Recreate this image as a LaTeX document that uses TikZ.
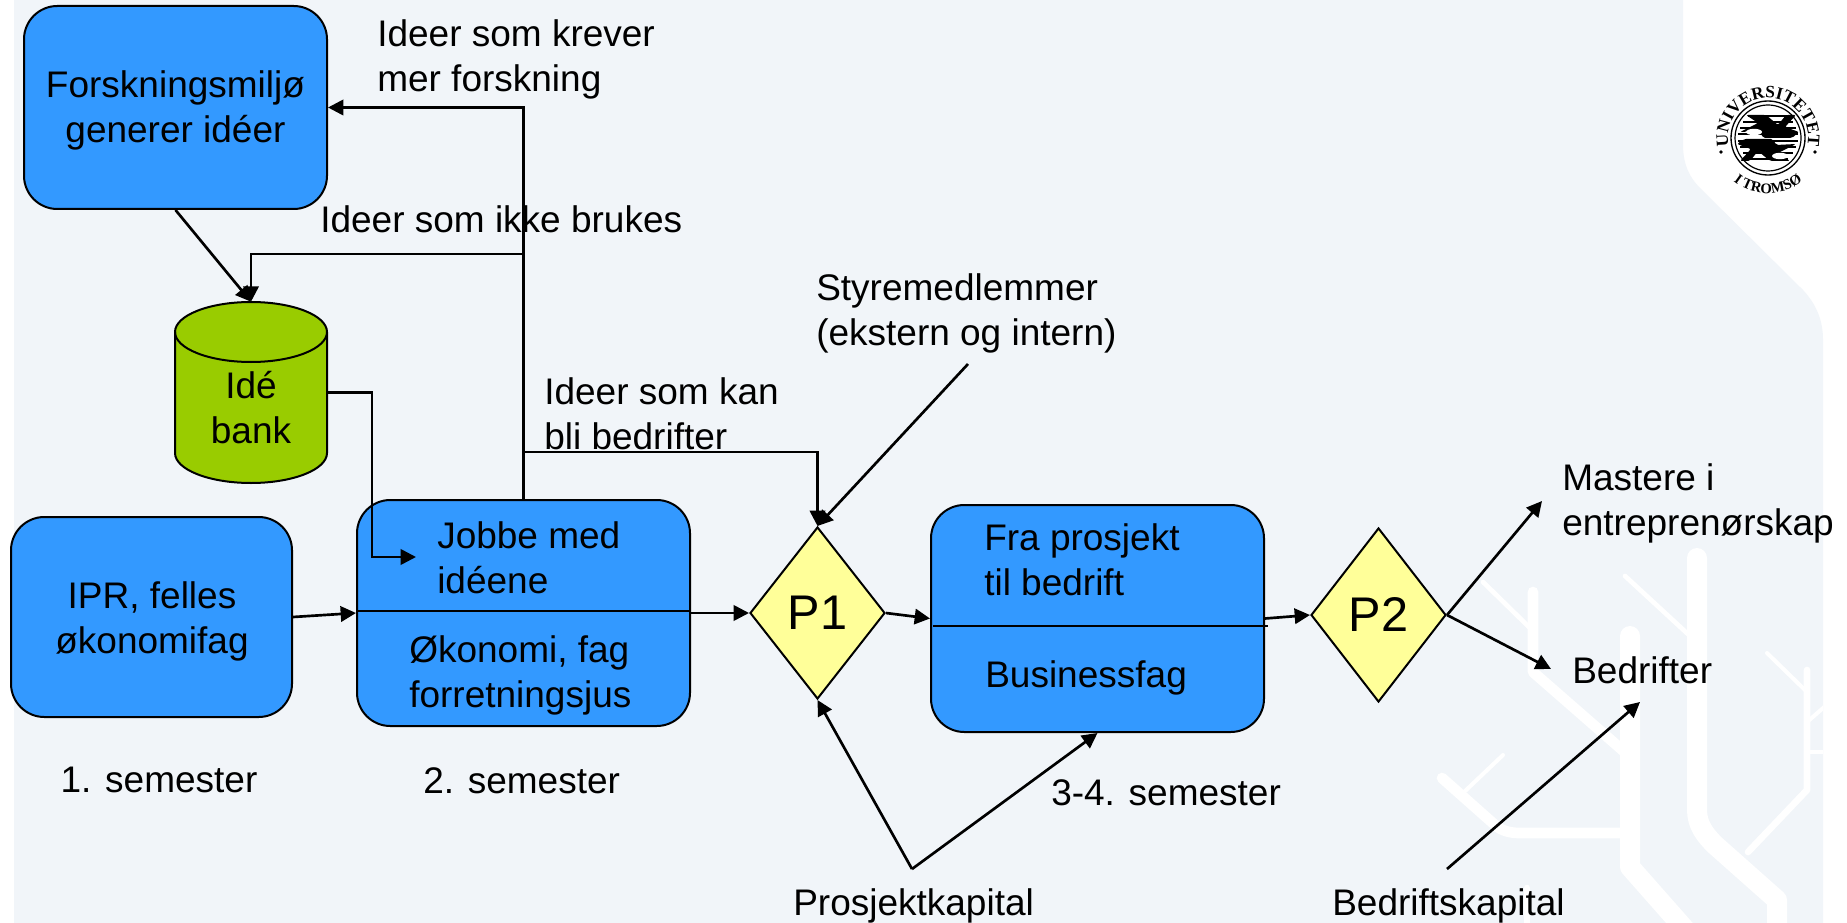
\documentclass[tikz,border=0pt]{standalone}
\usepackage{fontspec}
\setmainfont{Liberation Sans}
\newfontfamily\sealfont{Liberation Serif}
\usetikzlibrary{arrows.meta,shapes.geometric,calc,decorations.text}
\definecolor{panelc}{HTML}{F1F5F9}
\definecolor{boxc}{HTML}{3399FF}
\definecolor{cylc}{HTML}{99CC00}
\definecolor{diac}{HTML}{FFFF99}
\newcommand{\labfont}{\fontsize{27.75pt}{33.75pt}\selectfont}
\tikzset{
  bluebox/.style={draw=black,line width=1.5pt,fill=boxc,rectangle,rounded corners=25pt,inner sep=0pt},
  gate/.style={draw=black,line width=1.5pt,fill=diac,diamond,inner sep=0pt,font=\fontsize{36.5pt}{40pt}\selectfont},
  lab/.style={inner sep=0pt,anchor=base west,align=left,font=\labfont,text=black},
  clab/.style={inner sep=0pt,anchor=base,align=center,font=\labfont,text=black},
  conn/.style={line width=2pt,draw=black},
  arr/.style={conn,-{Triangle[length=11.5pt,width=11.5pt]}},
  treeline/.style={draw=white,line cap=round,line join=round},
}
\begin{document}
\begin{tikzpicture}[x=.75pt,y=-.75pt]
\useasboundingbox (0,0) rectangle (1847,923);
% panel
\fill[white] (0,0) rectangle (1847,923);
\begin{scope}
\path[clip] (14,0) -- (1683,0) -- (1683,145) .. controls (1683,165) and (1690,178) .. (1700,188)
  -- (1803,290) .. controls (1816,304) and (1823,320) .. (1823,340) -- (1823,923) -- (14,923) -- cycle;
\fill[panelc] (0,0) rectangle (1847,923);
% watermark
\draw[treeline,line width=15pt] (1630,636) -- (1630,867) -- (1690,935);
\draw[treeline,line width=15pt] (1697,558) -- (1697,810) .. controls (1697,825) and (1705,835) .. (1715,845) -- (1777,900) -- (1777,935);
\draw[treeline,line width=8pt] (1533,592) -- (1533,672) -- (1628,755);
\draw[treeline,line width=3.5pt] (1483,582) -- (1530,628);
\draw[treeline,line width=3.5pt] (1625,576) -- (1690,636);
\draw[treeline,line width=5pt] (1807,670) -- (1807,790) -- (1748,852);
\draw[treeline,line width=3pt] (1767,653) -- (1807,692);
\draw[treeline,line width=3pt] (1807,722) -- (1830,702);
\draw[treeline,line width=3pt] (1807,752) -- (1830,752);
\draw[treeline,line width=8pt] (1442,778) -- (1495,825) .. controls (1502,831) and (1510,833) .. (1520,833) -- (1630,833);
\draw[treeline,line width=3pt] (1463,793) -- (1503,755);
\draw[treeline,line width=5pt] (1527,888) -- (1527,935);
\end{scope}

% boxes
\node[bluebox,minimum width=227.25pt,minimum height=152.25pt] (forsk) at (175.5,107.5) {};
\node[bluebox,minimum width=210.75pt,minimum height=150pt] (ipr) at (151.5,617) {};
\node[bluebox,minimum width=249.75pt,minimum height=169.5pt] (jobbe) at (523.5,613) {};
\node[bluebox,minimum width=249.75pt,minimum height=170.25pt] (fra) at (1097.5,618.5) {};
\node[gate,minimum width=101.25pt,minimum height=129pt] (p1) at (817.5,613) {P1};
\node[gate,minimum width=101.25pt,minimum height=130.5pt] (p2) at (1378.5,615) {P2};
% cylinder
\node[inner sep=0pt,minimum width=114pt,minimum height=135.75pt] (cyl) at (251,392.5) {};
\draw[line width=1.5pt,fill=cylc] (175,332) -- (175,453)
  arc[x radius=57pt,y radius=22.5pt,start angle=180,end angle=360] -- (327,332)
  arc[x radius=57pt,y radius=22.5pt,start angle=0,end angle=180] -- cycle;
\draw[line width=1.5pt] (175,332) arc[x radius=57pt,y radius=22.5pt,start angle=180,end angle=360];
% dividers
\draw[line width=1.5pt] ($(jobbe.west)+(0,-2)$) -- ($(jobbe.east)+(0,-2)$);
\draw[line width=1.5pt] ($(fra.west)+(3,7.5)$) -- ($(fra.east)+(3,7.5)$);

% junctions and free ends
\coordinate (jx1) at (523.5,254);
\coordinate (jx2) at (523.5,452);
\coordinate (jbend) at (372,557);
\coordinate (jin) at (416,557);
\coordinate (st) at (968,364);
\coordinate (pk) at (912,869);
\coordinate (bk) at (1447,869);
\coordinate (mast) at (1542,501);
\coordinate (bedr) at (1551,669);
\coordinate (bedr2) at (1640,702);

% connectors
\draw[arr] (forsk.south) -- (cyl.north);
\draw[arr] (jobbe.north) |- (forsk.east);
\draw[arr] (jx1) -| (cyl.north);
\draw[arr] (jx2) -| (p1.north);
\draw[arr] (st) -- (p1.north);
\draw[arr] (cyl.east) -| (jbend) -- (jin);
\draw[arr] (ipr.east) -- (jobbe.west);
\draw[arr] (jobbe.east) -- (p1.west);
\draw[arr] (p1.east) -- (fra.west);
\draw[arr] (fra.east) -- (p2.west);
\draw[arr] (p2.east) -- (mast);
\draw[arr] (p2.east) -- (bedr);
\draw[arr] (bk) -- (bedr2);
\draw[arr] (pk) -- (p1.south);
\draw[arr] (pk) -- (fra.south);

% texts (anchor: baseline of the last line)
\node[clab] (tforsk) at (175.5,143) {Forskningsmiljø\\generer idéer};
\node[clab] (tcyl) at (251,443) {Idé\\bank};
\node[lab] (tkrever) at (377,92) {Ideer som krever\\mer forskning};
\node[lab] (tikke) at (320,233) {Ideer som ikke brukes};
\node[lab] (tkan) at (544,449) {Ideer som kan\\bli bedrifter};
\node[lab] (tstyre) at (816,345) {Styremedlemmer\\(ekstern og intern)};
\node[lab] (tjobbe) at (437,593) {Jobbe med\\idéene};
\node[lab] (tokon) at (409,707) {Økonomi, fag\\forretningsjus};
\node[clab] (tipr) at (152,653) {IPR, felles\\økonomifag};
\node[clab] (ts1) at (159,792) {1. semester};
\node[lab] (ts2) at (423,793) {2. semester};
\node[lab] (ts3) at (1051,805) {3-4. semester};
\node[lab] (tfra) at (984,595) {Fra prosjekt\\til bedrift};
\node[lab] (tbus) at (985,687) {Businessfag};
\node[lab] (tpk) at (793,915) {Prosjektkapital};
\node[lab] (tbk) at (1332,915) {Bedriftskapital};
\node[lab] (tmast) at (1562,535) {Mastere i\\entreprenørskap};
\node[lab] (tbedr) at (1572,683) {Bedrifter};

% seal
\coordinate (seal) at (1768,138);
\draw[line width=1pt] (seal) circle[radius=27.75pt];
\draw[line width=.9pt] (seal) circle[radius=24.75pt];
\path[decorate,decoration={text along path,text align=center,
   text={|\sealfont\bfseries\fontsize{13pt}{13pt}\selectfont|UNIVERSITETET}}]
   ($(seal)+(188:30pt)$) arc[radius=30pt,start angle=188,end angle=-8];
\path[decorate,decoration={text along path,text align=center,
   text={|\sealfont\bfseries\fontsize{11pt}{11pt}\selectfont|I TROMSØ}}]
   ($(seal)+(232:41.5pt)$) arc[radius=41.5pt,start angle=232,end angle=308];
\fill ($(seal)+(-47,14)$) circle[radius=1.4pt];
\fill ($(seal)+(47,14)$) circle[radius=1.4pt];
\begin{scope}[shift={(seal)}]
\foreach \yy/\xx in {-22/20,-16/25,-10/28,-4/30,3/30,9/28,15/25,21/20}
  \draw[line width=.9pt] (-\xx,\yy) -- (\xx,\yy);
\fill[rounded corners=1.5pt] (-22,-23) -- (-2,-23) -- (10,-13) -- (18,-23) -- (28,-23) -- (17,-11) -- (31,-6) -- (24,0) -- (-5,0) -- (-8,-7) -- (-28,-6) -- (-10,-15) -- cycle;
\fill[rounded corners=1.5pt] (22,23) -- (2,23) -- (-10,13) -- (-18,23) -- (-28,23) -- (-17,11) -- (-31,6) -- (-24,1) -- (5,1) -- (8,7) -- (28,6) -- (10,15) -- cycle;
\fill[white] (-14,-6) circle[x radius=6pt,y radius=2.4pt];
\fill[white] (12,18) circle[x radius=6pt,y radius=2.4pt];
\end{scope}
\end{tikzpicture}
\end{document}
